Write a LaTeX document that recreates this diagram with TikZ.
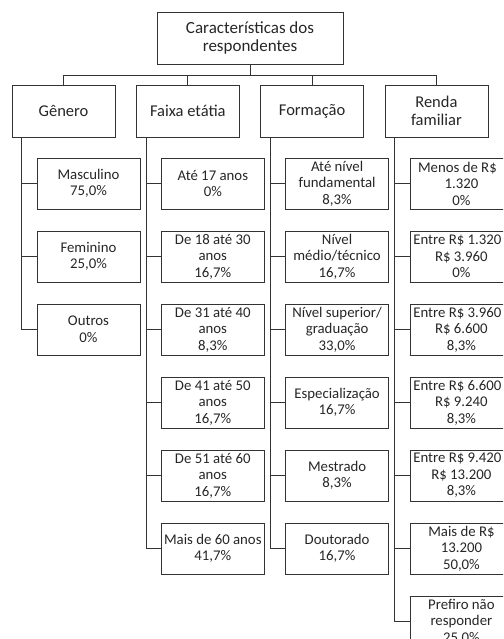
\documentclass[tikz,border=0pt]{standalone}
\usepackage{fontspec}
\setmainfont{Carlito}
\newcommand{\pl}{\hspace*{-8pt}}
\begin{document}
\begin{tikzpicture}[x=1pt,y=-1pt,
  box/.style={draw=black!80, line width=0.8pt, inner sep=0pt, align=center, text=black!85},
  head/.style={box, minimum width=103pt, minimum height=52pt, font=\fontsize{16.5}{18}\selectfont},
  leaf/.style={box, minimum width=103pt, minimum height=51pt, font=\fontsize{14.8}{16.5}\selectfont},
  conn/.style={draw=black!80, line width=0.8pt}]
\clip (0,0) rectangle (503,639);
\useasboundingbox (0,0) rectangle (503,639);

\node[box, minimum width=186pt, minimum height=52pt, font=\fontsize{17}{18.5}\selectfont] (top) at (250,38) {Características dos\\respondentes};
\coordinate (bus) at (250,75);

\node[head] (L1) at (63.5,111) {Gênero};
\node[head] (L2) at (187.8,111) {Faixa etátia};
\node[head] (L3) at (312.1,111) {Formação};
\node[head] (L4) at (436.4,111) {Renda\\familiar};

\draw[conn] (top) -- (bus);
\draw[conn] (bus) -| (L1.north);
\draw[conn] (bus) -| (L2.north);
\draw[conn] (bus) -| (L3.north);
\draw[conn] (bus) -| (L4.north);

% Gênero
\node[leaf] (a1) at (88.5,183.5) {Masculino\\75,0\%};
\node[leaf] (a2) at (88.5,256.5) {Feminino\\25,0\%};
\node[leaf] (a3) at (88.5,329.5) {Outros\\0\%};
\foreach \n in {a1,a2,a3} \draw[conn] ([xshift=10pt]L1.south west) |- (\n.west);

% Faixa etária
\node[leaf] (b1) at (212.8,183.5) {Até 17 anos\\0\%};
\node[leaf] (b2) at (212.8,256.5) {De 18 até 30\\anos\\16,7\%};
\node[leaf] (b3) at (212.8,329.5) {De 31 até 40\\anos\\8,3\%};
\node[leaf] (b4) at (212.8,402.5) {De 41 até 50\\anos\\16,7\%};
\node[leaf] (b5) at (212.8,475.5) {De 51 até 60\\anos\\16,7\%};
\node[leaf] (b6) at (212.8,548.5) {Mais de 60 anos\\41,7\%};
\foreach \n in {b1,b2,b3,b4,b5,b6} \draw[conn] ([xshift=10pt]L2.south west) |- (\n.west);

% Formação
\node[leaf] (c1) at (337.1,183.5) {Até nível\\fundamental\\8,3\%};
\node[leaf] (c2) at (337.1,256.5) {Nível\\médio/técnico\\16,7\%};
\node[leaf] (c3) at (337.1,329.5) {Nível superior/\\graduação\\33,0\%};
\node[leaf] (c4) at (337.1,402.5) {Especialização\\16,7\%};
\node[leaf] (c5) at (337.1,475.5) {Mestrado\\8,3\%};
\node[leaf] (c6) at (337.1,548.5) {Doutorado\\16,7\%};
\foreach \n in {c1,c2,c3,c4,c5,c6} \draw[conn] ([xshift=10pt]L3.south west) |- (\n.west);

% Renda familiar
\node[leaf] (d1) at (461.4,183.5) {\pl Menos de R\$\\1.320\\0\%};
\node[leaf] (d2) at (461.4,256.5) {\pl Entre R\$ 1.320\\R\$ 3.960\\0\%};
\node[leaf] (d3) at (461.4,329.5) {\pl Entre R\$ 3.960\\R\$ 6.600\\8,3\%};
\node[leaf] (d4) at (461.4,402.5) {\pl Entre R\$ 6.600\\R\$ 9.240\\8,3\%};
\node[leaf] (d5) at (461.4,475.5) {\pl Entre R\$ 9.420\\R\$ 13.200\\8,3\%};
\node[leaf] (d6) at (461.4,548.5) {Mais de R\$\\13.200\\50,0\%};
\node[leaf] (d7) at (461.4,621.5) {Prefiro não\\responder\\25,0\%};
\foreach \n in {d1,d2,d3,d4,d5,d6,d7} \draw[conn] ([xshift=10pt]L4.south west) |- (\n.west);
\end{tikzpicture}
\end{document}
